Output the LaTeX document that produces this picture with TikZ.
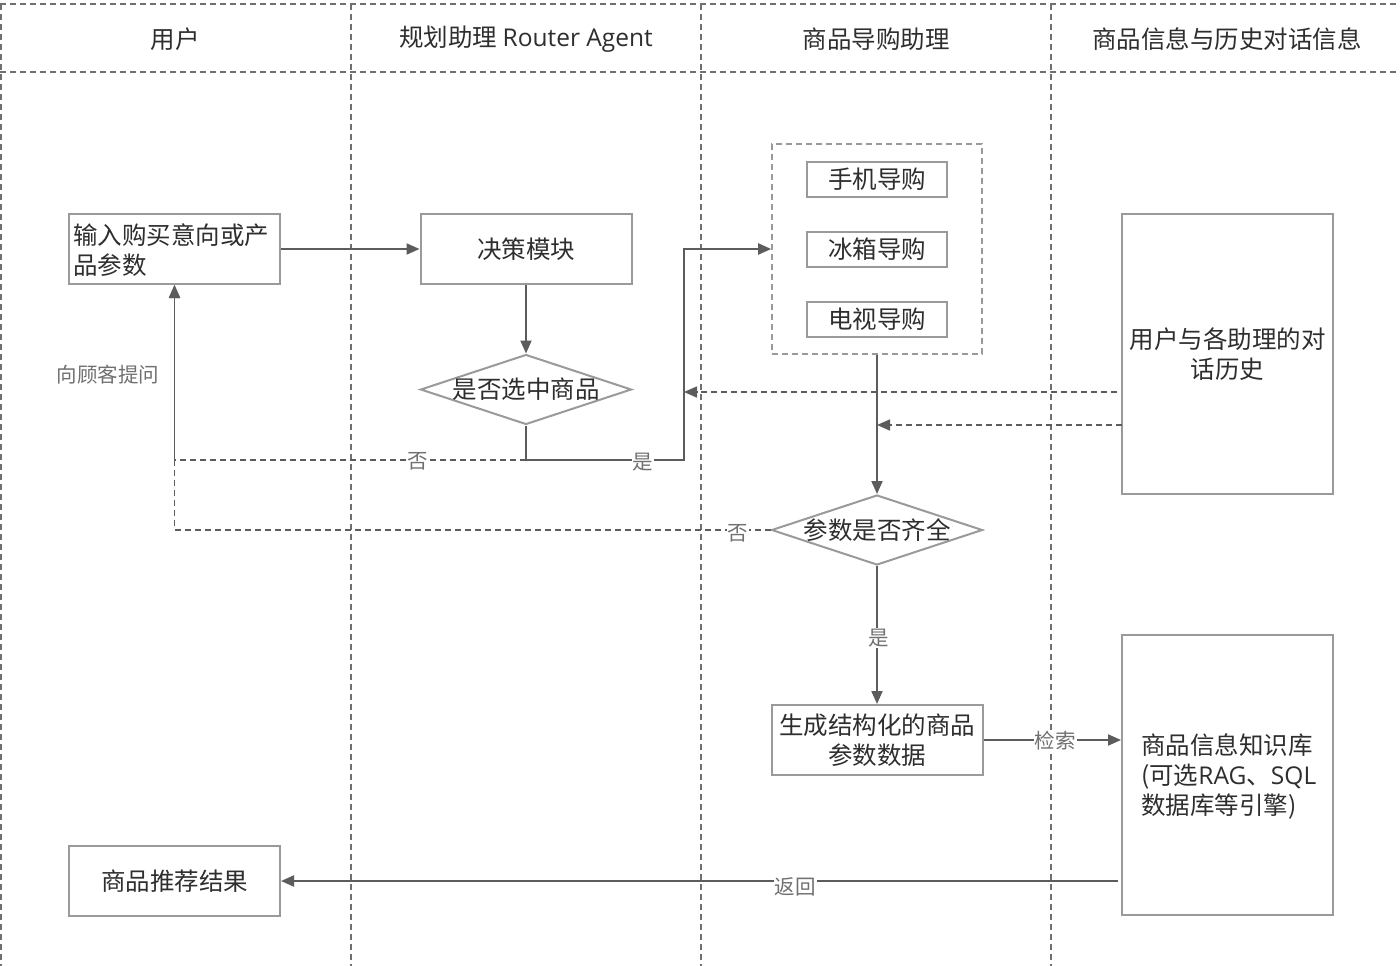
\documentclass[tikz,border=0pt]{standalone}
\usepackage{fontspec}
\setmainfont{Noto Sans CJK SC}
\newfontfamily\latf{Open Sans}
\usetikzlibrary{arrows.meta,shapes.geometric}
\definecolor{boxc}{HTML}{9A9A9A}
\definecolor{linec}{HTML}{5C5C5C}
\definecolor{lanec}{HTML}{707070}
\definecolor{txtc}{HTML}{2E2E2E}
\definecolor{lblc}{HTML}{707070}
\newcommand\fbig{\fontsize{24.5}{30}\selectfont}
\newcommand\flbl{\fontsize{20.5}{24}\selectfont}
\begin{document}
\begin{tikzpicture}[x=1pt,y=-1pt,
  lane/.style={draw=lanec,line width=1.3pt,dash pattern=on 6pt off 4pt},
  box/.style={draw=boxc,line width=2pt,fill=white,minimum width=211pt,minimum height=70pt,inner sep=0pt,text=txtc,font=\fbig,align=center},
  sbox/.style={draw=boxc,line width=2pt,fill=white,minimum width=140pt,minimum height=35pt,inner sep=0pt,text=txtc,font=\fbig},
  grpbox/.style={draw=boxc,line width=1.6pt,dash pattern=on 6pt off 4pt,minimum width=210pt,minimum height=210pt,inner sep=0pt},
  dia/.style={diamond,draw=boxc,line width=2pt,fill=white,minimum width=211pt,minimum height=70pt,inner sep=0pt,aspect=3},
  txt/.style={text=txtc,font=\fbig,align=center,inner sep=0pt},
  hdr/.style={text=txtc,font=\fbig,inner sep=0pt},
  lbl/.style={text=lblc,font=\flbl,fill=white,inner sep=1pt},
  arr/.style={draw=linec,line width=2pt,-{Triangle[length=13pt,width=11pt]}},
  darr/.style={draw=linec,line width=1.6pt,dash pattern=on 6pt off 4pt,-{Triangle[length=13pt,width=11pt]}}
]
\useasboundingbox (0,0) rectangle (1400,966);
\fill[white] (0,0) rectangle (1400,966);
% lanes
\draw[lane] (0,4) -- (1400,4);
\draw[lane] (0,72) -- (1400,72);
\foreach \x in {1,351,701,1051} \draw[lane] (\x,4) -- (\x,966);
% headers
\node[hdr] (h1) at (175,39) {用户};
\node[hdr] (h2) at (526,39) {规划助理 {\latf Router Agent}};
\node[hdr] (h3) at (876,39) {商品导购助理};
\node[hdr] (h4) at (1227,39) {商品信息与历史对话信息};
% nodes
\node[box] (in) at (174.5,249) {};
\node[txt,text width=203pt,align=left,anchor=center] (intxt) at (174.5,250) {输入购买意向或产\\品参数};
\node[box] (dec) at (526,249) {决策模块};
\node[dia] (d1) at (526,389.5) {};
\node[txt] (d1t) at (526,389) {是否选中商品};
\node[grpbox] (grp) at (877,249) {};
\node[sbox] (s1) at (877,179.5) {手机导购};
\node[sbox] (s2) at (877,249.5) {冰箱导购};
\node[sbox] (s3) at (877,319.5) {电视导购};
\node[box,minimum height=280pt] (hist) at (1227.5,354) {用户与各助理的对\\话历史};
\node[dia] (d2) at (877,530) {};
\node[txt] (d2t) at (877,530) {参数是否齐全};
\node[box] (gen) at (877,740) {生成结构化的商品\\参数数据};
\node[box,minimum height=280pt] (kb) at (1227.5,775) {};
\node[txt,align=left,anchor=west] (kbt) at (1141,776) {商品信息知识库\\({}可选{\latf RAG}、{\latf SQL}\\数据库等引擎)};
\node[box] (res) at (174.5,881) {商品推荐结果};
% coordinates
\coordinate (c1) at (526,460);
\coordinate (c2) at (684,460);
\coordinate (hs1) at (1117,392);
\coordinate (he1) at (684,392);
\coordinate (hs2) at (1122,425);
\coordinate (he2) at (877,425);
\coordinate (r1) at (1118,881);
% connectors
\draw[arr] (in.east) -- (dec.west);
\draw[arr] (dec.south) -- (d1.north);
\draw[arr] (d1.south) |- (c2) |- (grp.west);
\draw[darr] (c1) -| (in.south);
\draw[darr] (d2.west) -| (in.south);
\draw[darr] (hs1) -- (he1);
\draw[darr] (hs2) -- (he2);
\draw[arr] (grp.south) -- (d2.north);
\draw[arr] (d2.south) -- (gen.north);
\draw[arr] (gen.east) -- (gen.east -| kb.west);
\draw[arr] (r1) -- (res.east);
% labels
\node[lbl] (l1) at (643,462) {是};
\node[lbl] (l2) at (418,461) {否};
\node[lbl] (l3) at (738,533) {否};
\node[lbl,fill=none] (l4) at (108,375) {向顾客提问};
\node[lbl] (l5) at (879,638) {是};
\node[lbl] (l6) at (1055,741) {检索};
\node[lbl] (l7) at (795,887) {返回};
\end{tikzpicture}
\end{document}
